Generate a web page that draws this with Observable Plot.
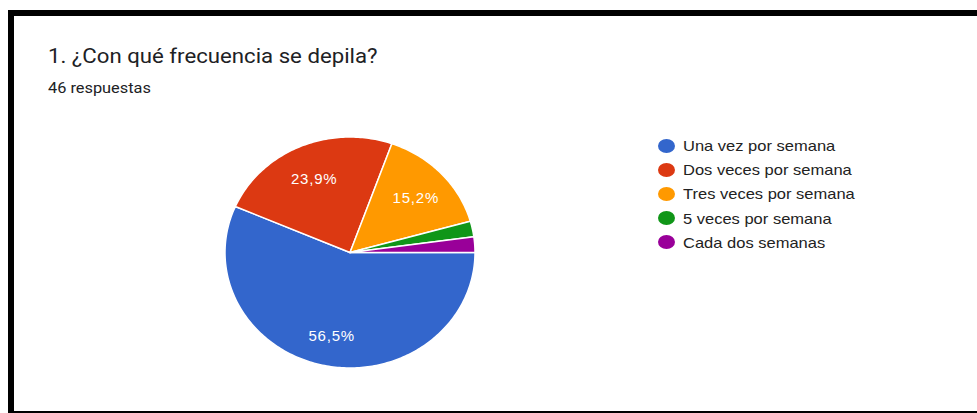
<!DOCTYPE html>
<html><head><meta charset="utf-8">
<script src="https://cdn.jsdelivr.net/npm/d3@7"></script>
<script src="https://cdn.jsdelivr.net/npm/@observablehq/plot@0.6"></script>
<style>
body{margin:0;background:#fff;}
#wrap{position:relative;width:977px;height:413px;overflow:hidden;background:#fff;}
.bar{position:absolute;background:#000;z-index:5;}
#head{position:relative;height:115px;}
#title{position:absolute;left:48px;top:46px;font-family:Roboto,"Liberation Sans",sans-serif;font-size:20px;line-height:20px;color:#202124;white-space:nowrap;transform:scaleX(1.11);transform-origin:left center;}
#sub{position:absolute;left:48px;top:80.5px;font-family:Roboto,"Liberation Sans",sans-serif;font-size:15px;line-height:15px;color:#202124;white-space:nowrap;transform:scaleX(1.09);transform-origin:left center;}
#chart svg{display:block;}
#legend{position:absolute;left:658px;top:133.5px;font-family:"Liberation Sans",Arial,sans-serif;font-size:15px;color:#222;}
.li{display:flex;align-items:center;height:24.2px;white-space:nowrap;}
.dot{width:17px;height:14px;border-radius:50%;margin-right:8px;flex:none;}
.lt{display:inline-block;transform:scaleX(1.1);transform-origin:left center;}
</style>
</head><body>
<div id="wrap">
  <div class="bar" style="left:8px;top:10px;width:969px;height:6px;"></div>
  <div class="bar" style="left:8px;top:10px;width:6px;height:403px;"></div>
  <div class="bar" style="left:8px;top:411px;width:969px;height:1.5px;"></div>
  <div id="head">
    <div id="title">1. ¿Con qué frecuencia se depila?</div>
    <div id="sub">46 respuestas</div>
  </div>
  <div id="chart"></div>
  <div id="legend"></div>
</div>
<script>
const categories = ["Una vez por semana","Dos veces por semana","Tres veces por semana","5 veces por semana","Cada dos semanas"];
const counts = [26, 11, 7, 1, 1];
const colors = ["#3366cc","#dc3912","#ff9900","#109618","#990099"];
const total = d3.sum(counts);

// build slice outlines (start at 3 o'clock, clockwise)
const slicePts = [];
const labels = [];
let acc = 0;
categories.forEach((cat, i) => {
  const s = acc / total, e = (acc + counts[i]) / total;
  acc += counts[i];
  const n = Math.max(2, Math.ceil((e - s) * 360));
  slicePts.push({cat, x: 0, y: 0});
  for (let k = 0; k <= n; k++) {
    const t = -2 * Math.PI * (s + (e - s) * k / n);
    slicePts.push({cat, x: Math.cos(t), y: Math.sin(t)});
  }
  slicePts.push({cat, x: 0, y: 0});
  const p = counts[i] / total;
  if (p > 0.05) {
    const m = -2 * Math.PI * (s + e) / 2;
    labels.push({x: 0.72 * Math.cos(m), y: 0.72 * Math.sin(m), text: (p * 100).toFixed(1).replace(".", ",") + "%"});
  }
});

const chart = Plot.plot({
  width: 977,
  height: 298,
  margin: 0,
  style: {background: "transparent", fontFamily: "Liberation Sans, Arial, sans-serif", letterSpacing: "0.8px"},
  x: {domain: [-1, 1], range: [224.5, 474.5], axis: null},
  y: {domain: [-1, 1], range: [252.5, 21.5], axis: null},
  color: {domain: categories, range: colors},
  marks: [
    Plot.line(slicePts, {x: "x", y: "y", z: "cat", fill: "cat", stroke: "white", strokeWidth: 1.5, strokeLinejoin: "round"}),
    Plot.text(labels, {x: "x", y: "y", text: "text", fill: "white", fontSize: 15, dy: 2.5})
  ]
});
document.getElementById("chart").appendChild(chart);

const leg = document.getElementById("legend");
categories.forEach((c, i) => {
  const row = document.createElement("div");
  row.className = "li";
  const d = document.createElement("span");
  d.className = "dot";
  d.style.background = colors[i];
  const t = document.createElement("span");
  t.className = "lt";
  t.textContent = c;
  row.appendChild(d); row.appendChild(t);
  leg.appendChild(row);
});
</script>
</body></html>
